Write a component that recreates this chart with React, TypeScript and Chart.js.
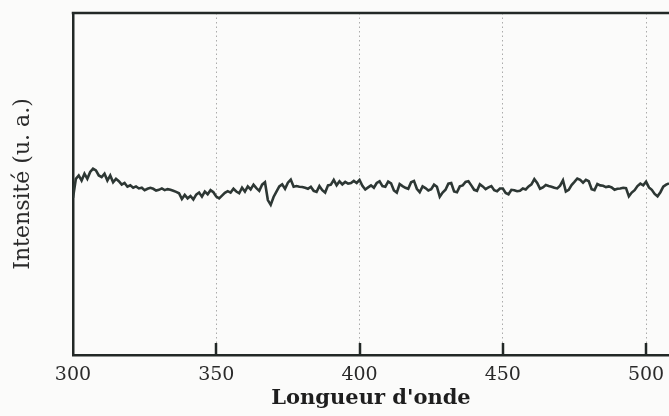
import React, { useEffect, useRef } from "react";
import { Chart, registerables } from "chart.js";

Chart.register(...registerables);

// Wavelength axis (nm) – samples every 1 nm starting at 300
const startWavelength = 300;
const xMin = 300;
const xMax = 508;
const xTickValues = [300, 350, 400, 450, 500];

// Intensity (arbitrary units, 0–100 scale)
const intensity = [
  46.0, 51.5, 52.5, 51.0, 53.0, 51.5, 53.5, 54.5, 54.0, 52.5,
  52.0, 53.0, 51.0, 52.5, 50.5, 51.5, 50.8, 49.8, 50.3, 49.2,
  49.6, 48.9, 49.3, 48.7, 48.9, 48.2, 48.6, 48.9, 48.6, 48.1,
  48.3, 48.7, 48.2, 48.5, 48.3, 48.0, 47.7, 47.3, 45.6, 46.8,
  45.8, 46.5, 45.5, 46.9, 47.5, 46.3, 47.8, 47.0, 48.2, 47.6,
  46.3, 45.8, 46.6, 47.4, 47.9, 47.5, 48.6, 47.8, 47.3, 48.9,
  47.8, 49.3, 48.4, 49.8, 48.8, 48.0, 49.8, 50.5, 45.3, 43.9,
  46.2, 47.8, 49.3, 49.9, 48.6, 50.4, 51.3, 49.2, 49.4, 49.2,
  49.1, 48.9, 48.6, 49.2, 48.0, 47.7, 49.4, 48.2, 47.5, 49.6,
  49.8, 51.2, 49.6, 50.8, 49.9, 50.6, 50.1, 50.3, 50.9, 50.3,
  51.2, 49.5, 48.4, 49.0, 49.6, 48.9, 50.3, 50.8, 49.4, 49.2,
  50.7, 50.2, 48.1, 47.5, 50.0, 49.4, 48.9, 48.6, 50.5, 50.9,
  48.6, 47.6, 49.3, 48.8, 48.1, 48.5, 49.8, 49.2, 46.3, 47.5,
  48.3, 50.1, 50.3, 47.8, 47.6, 49.3, 49.6, 50.6, 50.8, 49.6,
  48.3, 48.0, 49.9, 49.3, 48.5, 49.0, 49.4, 48.2, 47.9, 48.7,
  48.7, 47.4, 47.0, 48.3, 48.2, 47.9, 48.0, 48.7, 48.4, 49.3,
  49.9, 51.4, 50.3, 48.6, 49.0, 49.7, 49.4, 49.2, 48.9, 48.7,
  49.5, 51.1, 47.8, 48.3, 49.7, 50.6, 51.6, 51.2, 50.4, 51.2,
  50.8, 48.5, 48.2, 50.0, 49.6, 49.5, 49.1, 49.3, 49.0, 48.3,
  48.6, 48.7, 48.9, 48.8, 46.4, 47.5, 48.2, 49.4, 50.1, 49.6,
  50.7, 49.0, 48.3, 47.1, 46.4, 47.6, 49.2, 49.8, 50.2,
];

const xTitle = "Longueur d'onde";
const yTitle = "Intensité (u. a.)";

const FONT = "'DejaVu Serif', 'Liberation Serif', serif";
const INK = "#222826";

const framePlugin = {
  id: "frame",
  beforeDraw(chart: any) {
    const { ctx, width, height } = chart;
    ctx.save();
    ctx.fillStyle = "#fbfbfa";
    ctx.fillRect(0, 0, width, height);
    ctx.restore();
  },
  afterDraw(chart: any) {
    const ctx = chart.ctx;
    const area = chart.chartArea;
    const xs = chart.scales.x;
    ctx.save();
    ctx.setLineDash([]);
    ctx.strokeStyle = INK;
    ctx.lineWidth = 2.5;
    ctx.beginPath();
    ctx.moveTo(area.left - 1.25, area.top);
    ctx.lineTo(area.right, area.top);
    ctx.stroke();
    // inward tick marks on the bottom axis
    ctx.beginPath();
    for (let i = 0; i < xTickValues.length; i++) {
      const v = xTickValues[i];
      if (v <= xMin) continue;
      const px = Math.round(xs.getPixelForValue(v));
      ctx.moveTo(px, area.bottom);
      ctx.lineTo(px, area.bottom - 12);
    }
    ctx.stroke();
    // x axis title (the original frame extends a little past the crop)
    ctx.fillStyle = "#1e1e1e";
    ctx.font = `bold 21px ${FONT}`;
    ctx.textAlign = "center";
    ctx.textBaseline = "alphabetic";
    ctx.fillText(xTitle, xs.getPixelForValue(404), 404);
    ctx.restore();
  },
};

export default function App() {
  const ref = useRef<HTMLCanvasElement | null>(null);

  useEffect(() => {
    if (!ref.current) return;
    const points = intensity.map((y, i) => ({ x: startWavelength + i, y }));
    const chart = new Chart(ref.current, {
      type: "line",
      data: {
        datasets: [
          {
            data: points,
            borderColor: "#2d3734",
            borderWidth: 2.6,
            pointRadius: 0,
            tension: 0,
            fill: false,
          },
        ],
      },
      options: {
        responsive: false,
        animation: false,
        layout: { padding: { top: 13, left: 0, right: 0, bottom: 0 } },
        plugins: {
          legend: { display: false },
          tooltip: { enabled: false },
        },
        scales: {
          x: {
            type: "linear",
            min: xMin,
            max: xMax,
            afterBuildTicks: (scale: any) => {
              scale.ticks = xTickValues.map((v) => ({ value: v }));
            },
            afterFit: (scale: any) => {
              scale.height = 61;
              scale.paddingLeft = 0;
              scale.paddingRight = 0;
            },
            grid: {
              display: true,
              drawTicks: false,
              color: "#ababab",
              lineWidth: 1,
            },
            border: { display: true, color: INK, width: 2.5, dash: [1.5, 3] },
            ticks: {
              padding: 9,
              color: "#2a2a2a",
              font: { family: FONT, size: 19 },
              callback: (v: any) => String(v),
            },
            title: { display: false, text: xTitle },
          },
          y: {
            type: "linear",
            min: 0,
            max: 100,
            afterFit: (scale: any) => {
              scale.width = 73;
              scale.paddingTop = 0;
              scale.paddingBottom = 0;
            },
            grid: { display: false, drawTicks: false },
            border: { display: true, color: INK, width: 2.5 },
            ticks: { display: false },
            title: {
              display: true,
              text: yTitle,
              color: "#2a2a2a",
              font: { family: FONT, size: 22 },
              padding: { top: 10, bottom: 0 },
            },
          },
        },
      },
      plugins: [framePlugin],
    });
    return () => chart.destroy();
  }, []);

  return (
    <div style={{ position: "absolute", left: 0, top: 0, width: 669, height: 416 }}>
      <canvas ref={ref} width={669} height={416} style={{ display: "block" }} />
    </div>
  );
}
